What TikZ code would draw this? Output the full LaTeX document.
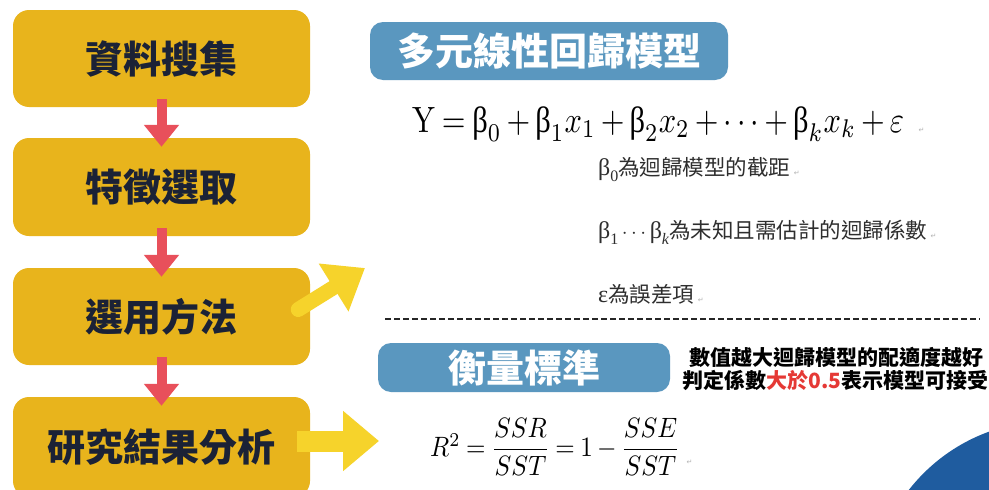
\documentclass[tikz,border=0pt]{standalone}
\usepackage{fontspec}
\usepackage{graphicx}
\usetikzlibrary{arrows.meta}
\newfontfamily\cjk{Noto Sans CJK TC}
\newfontfamily\grk{Liberation Serif}
\newfontfamily\symf{DejaVu Sans}
\definecolor{boxyellow}{HTML}{E8B41C}
\definecolor{arrowyellow}{HTML}{F6D32B}
\definecolor{arrowred}{HTML}{E8505B}
\definecolor{labelblue}{HTML}{5A97BF}
\definecolor{navy}{HTML}{1B2236}
\definecolor{deepblue}{HTML}{1F5C9F}
\definecolor{darkgray}{HTML}{2E2E2E}
\definecolor{hlred}{HTML}{E53935}
\newcommand\ub{\mathord{\hbox{\grk β}}}
\newcommand\pmark{{\symf\fontsize{7}{7}\selectfont\color{gray!60}↵}}
\newcommand\gb{{\grk\fontsize{24}{24}\selectfont β}}
\newcommand\lowsub[1]{\raisebox{-0.3em}{\grk\fontsize{16}{16}\selectfont #1}}
\begin{document}
\begin{tikzpicture}[x=1pt,y=-1pt,
  stepbox/.style={fill=boxyellow, rounded corners=16pt, minimum width=297pt, text=navy,
    font=\cjk\bfseries\fontsize{38}{40}\selectfont, inner sep=0pt},
  bluetag/.style={fill=labelblue, rounded corners=13pt, text=white,
    font=\cjk\bfseries\fontsize{38}{40}\selectfont, inner sep=0pt},
  redarr/.style={draw=arrowred, line width=10pt, -{Triangle[width=34pt,length=22pt]}},
  yelarr/.style={draw=arrowyellow},
  desc/.style={anchor=base west, inner sep=0pt, text=darkgray, font=\cjk\fontsize{21.5}{24}\selectfont},
  note/.style={inner sep=0pt, text=black, font=\cjk\bfseries\fontsize{21}{23}\selectfont},
  plain/.style={inner sep=0pt}
]
\useasboundingbox (0,0) rectangle (989,490);
\clip (0,0) rectangle (989,490);
\fill[white] (0,0) rectangle (989,490);

% decorative circle
\fill[deepblue] (1050,600) circle (179pt);

% left flow boxes
\node[stepbox, minimum height=97pt] (b1) at (161.5,58.5) {資料搜集};
\node[stepbox, minimum height=98pt] (b2) at (161.5,187) {特徵選取};
\node[stepbox, minimum height=97pt] (b3) at (161.5,316.5) {選用方法};
\node[stepbox, minimum height=100pt] (b4) at (161.5,447) {研究結果分析};

\draw[redarr] ([yshift=8pt]b1.south) -- ([yshift=-9pt]b2.north);
\draw[redarr] ([yshift=8pt]b2.south) -- ([yshift=-9pt]b3.north);
\draw[redarr] ([yshift=8pt]b3.south) -- ([yshift=-9pt]b4.north);

% yellow arrows
\coordinate (dt) at (365,268);
\coordinate (ht) at (379,441);
\draw[yelarr, line width=15pt, line cap=round, -{Triangle[width=54pt,length=37pt]}]
  ([shift={(-12pt,7pt)}]b3.east) -- (dt);
\draw[yelarr, line width=21pt, -{Triangle[width=58pt,length=36pt]}]
  ([shift={(-13pt,6pt)}]b4.east) -- (ht);

% model title
\node[bluetag, minimum width=358pt, minimum height=58pt] (t1) at (549,51) {多元線性回歸模型};
\node[plain, anchor=base west] (eq) at (412,132)
  {\scalebox{1}[1.2]{\resizebox{492pt}{!}{\medmuskip=3mu\thickmuskip=4mu
   $\mathrm{Y}=\ub_0+\ub_1x_1+\ub_2x_2+\cdots+\ub_kx_k+\varepsilon$}}};
\node[plain, anchor=base west] (eqm) at ([xshift=14pt]eq.base east) {\pmark};

\node[desc] (d1) at (598,175) {\gb\lowsub{0}為迴歸模型的截距\,\pmark};
\node[desc] (d2) at (598,238) {\gb\lowsub{1}\,$\cdots$\,\gb\lowsub{\itshape k}為未知且需估計的迴歸係數\,\pmark};
\node[desc] (d3) at (598,302) {{\grk\fontsize{24}{24}\selectfont ε}為誤差項\,\pmark};

% separator
\coordinate (dl) at (385,319);
\coordinate (dr) at (980,319);
\draw[line width=1.8pt, color=black!85, dash pattern=on 6pt off 3pt] (dl) -- (dr);

% measure
\node[bluetag, minimum width=292pt, minimum height=49pt] (t2) at (524,367.5) {衡量標準};
\node[note] (n1) at (836.5,357) {數值越大迴歸模型的配適度越好};
\node[note] (n2) at (835.5,380) {判定係數{\color{hlred}大於0.5}表示模型可接受};

\node[plain, anchor=west] (rf) at (430,447)
  {\scalebox{1}[1.12]{\resizebox{250pt}{!}{\medmuskip=3mu\thickmuskip=4mu
   $R^2=\displaystyle\frac{SSR}{SST}=1-\frac{SSE}{SST}$}}};
\node[plain, anchor=west] (rfm) at ([xshift=6pt,yshift=-15pt]rf.east) {\pmark};
\end{tikzpicture}
\end{document}
